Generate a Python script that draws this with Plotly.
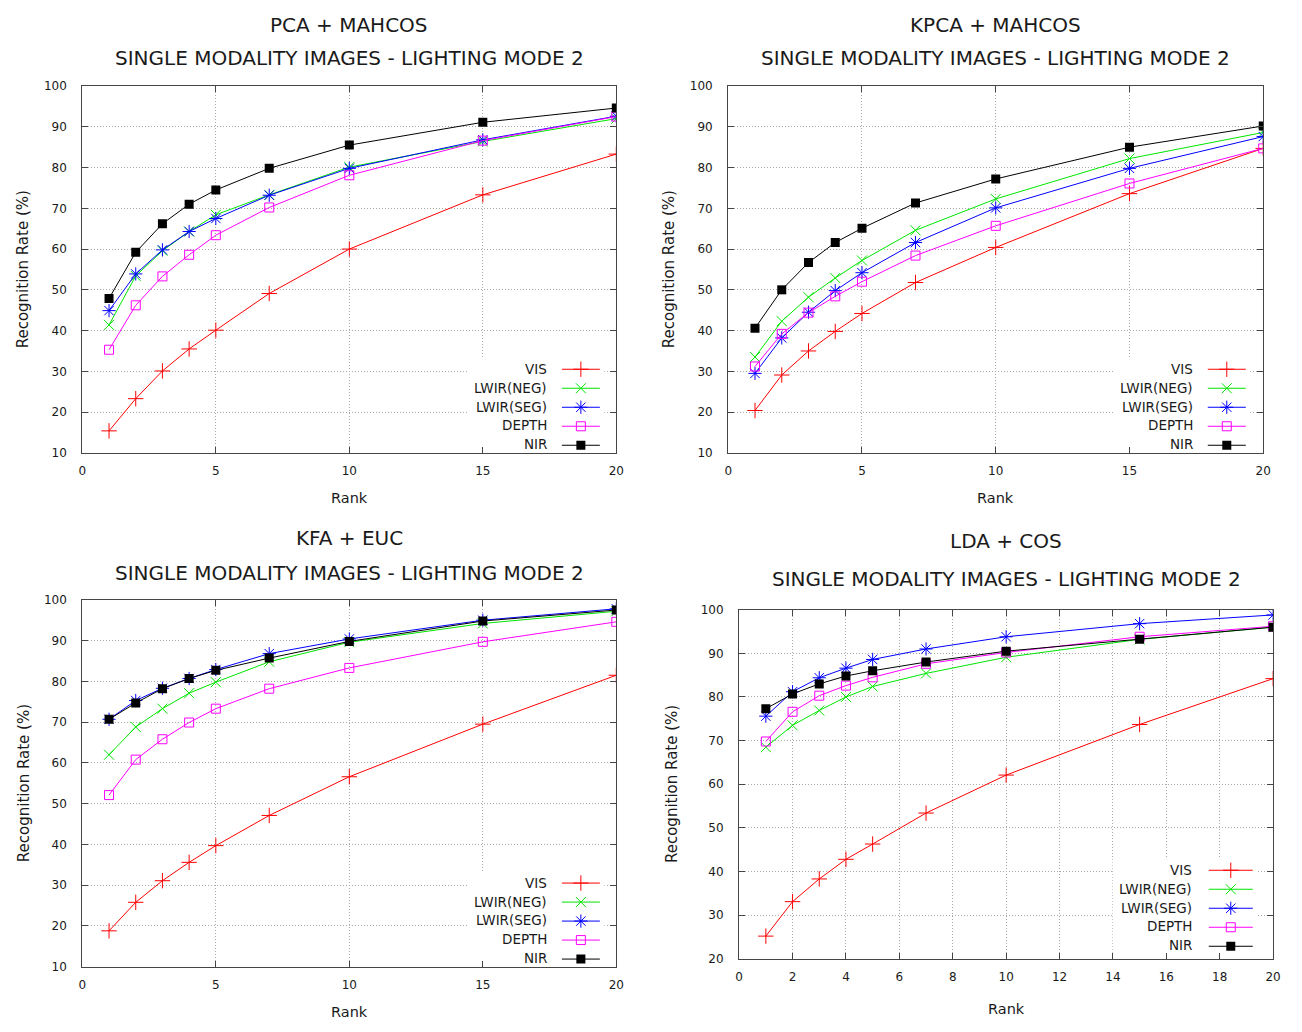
import plotly.graph_objects as go

# ---------------- data ----------------
ranks = [1, 2, 3, 4, 5, 7, 10, 15, 20]
series_names = ["VIS", "LWIR(NEG)", "LWIR(SEG)", "DEPTH", "NIR"]

panel_titles = ["PCA + MAHCOS", "KPCA + MAHCOS", "KFA + EUC", "LDA + COS"]
subtitle = "SINGLE MODALITY IMAGES - LIGHTING MODE 2"

pca_vis = [15.4, 23.3, 30.1, 35.5, 40.1, 49.1, 60.0, 73.3, 83.3]
pca_neg = [41.4, 53.4, 59.6, 64.3, 68.4, 73.3, 80.1, 86.4, 92.0]
pca_seg = [44.9, 53.9, 59.8, 64.3, 67.5, 73.2, 79.8, 86.8, 92.6]
pca_depth = [35.3, 46.2, 53.3, 58.6, 63.4, 70.2, 78.1, 86.6, 92.5]
pca_nir = [47.9, 59.2, 66.2, 71.0, 74.5, 79.8, 85.5, 91.1, 94.6]

kpca_vis = [20.4, 29.1, 35.0, 39.8, 44.2, 51.8, 60.4, 73.6, 84.7]
kpca_neg = [33.5, 42.3, 48.2, 52.9, 57.2, 64.6, 72.3, 82.2, 88.6]
kpca_seg = [29.5, 38.2, 44.5, 49.8, 54.2, 61.6, 70.1, 79.8, 87.6]
kpca_depth = [31.2, 39.2, 44.4, 48.4, 52.0, 58.4, 65.7, 76.1, 84.7]
kpca_nir = [40.6, 50.0, 56.7, 61.6, 65.1, 71.3, 77.2, 85.0, 90.2]

kfa_vis = [18.8, 25.8, 31.1, 35.6, 39.7, 47.1, 56.6, 69.5, 81.5]
kfa_neg = [62.0, 68.8, 73.3, 77.1, 79.8, 84.8, 89.6, 94.2, 97.2]
kfa_seg = [70.7, 75.3, 78.3, 80.7, 82.9, 86.8, 90.4, 95.0, 97.8]
kfa_depth = [52.1, 60.8, 65.8, 69.9, 73.3, 78.2, 83.3, 89.7, 94.6]
kfa_nir = [70.7, 74.7, 78.2, 80.7, 82.7, 85.7, 89.8, 94.8, 97.5]

lda_vis = [25.2, 33.1, 38.3, 42.8, 46.3, 53.4, 62.1, 73.7, 84.2]
lda_neg = [68.5, 73.5, 76.9, 80.0, 82.4, 85.4, 89.1, 93.2, 96.0]
lda_seg = [75.6, 81.2, 84.4, 86.6, 88.6, 91.0, 93.8, 96.8, 98.8]
lda_depth = [69.8, 76.6, 80.3, 82.6, 84.5, 87.6, 90.2, 93.8, 96.2]
lda_nir = [77.3, 80.7, 83.0, 84.8, 86.0, 88.0, 90.5, 93.2, 96.0]

panel_data = [
    [pca_vis, pca_neg, pca_seg, pca_depth, pca_nir],
    [kpca_vis, kpca_neg, kpca_seg, kpca_depth, kpca_nir],
    [kfa_vis, kfa_neg, kfa_seg, kfa_depth, kfa_nir],
    [lda_vis, lda_neg, lda_seg, lda_depth, lda_nir],
]

x_range = [0, 20]
x_dticks = [5, 5, 5, 2]
y_ranges = [[10, 100], [10, 100], [10, 100], [20, 100]]

# ---------------- styling ----------------
# The page body has an 8px default margin; size the figure so the page
# exactly fills the 1302x1032 window and position everything in page pixels.
OFF = 8
W, H = 1302 - 2 * OFF, 1032 - 2 * OFF
FONT = "DejaVu Sans"
TXT = "#1a1a1a"

colors = ["#ff0000", "#00e600", "#0000ff", "#ff00ff", "#000000"]
symbols = ["cross-thin-open", "x-thin-open", "asterisk-open", "square-open", "square"]
sizes = [11, 10, 11, 9, 9]

# plot boxes in page pixels: left, top, right, bottom
boxes = [(79, 80, 618, 452), (731, 80, 1271, 452),
         (79, 601, 618, 973), (742, 611, 1281, 965)]
title_y = [(18, 52), (18, 52), (538, 574), (541, 580)]
rank_y = [498, 498, 1019, 1016]
ylab_x = [20, 672, 20, 674]
# legend: text right edge, marker x, middle row y, sample width
legend_pos = [(550, 582, 405, 38), (1202, 1234, 405, 38),
              (550, 582, 926, 38), (1201, 1238, 913, 44)]


def fx(p):
    return (p - OFF) / W


def fy(p):
    return 1 - (p - OFF) / H


fig = go.Figure()
annotations = []
shapes = []

for i in range(4):
    ax = "" if i == 0 else str(i + 1)
    xa, ya = "x" + ax, "y" + ax
    leg = "legend" if i == 0 else "legend" + str(i + 1)
    for s in range(5):
        fig.add_trace(go.Scatter(
            x=ranks, y=panel_data[i][s], name="",
            mode="lines+markers", xaxis=xa, yaxis=ya, legend=leg,
            line=dict(color=colors[s], width=1),
            marker=dict(symbol=symbols[s], size=sizes[s], color=colors[s],
                        line=dict(color=colors[s], width=1 if s < 4 else 0)),
            showlegend=True,
        ))
    l, t, r, b = boxes[i]
    axis_common = dict(
        showline=True, linecolor="#454545", linewidth=1.3, mirror="ticks",
        ticks="inside", ticklen=6, tickcolor="#454545", tickwidth=1,
        showgrid=True, gridcolor="#a8a8a8", griddash="1px,2px", gridwidth=1,
        zeroline=False, tickfont=dict(family=FONT, size=12, color=TXT),
    )
    fig.update_layout(**{
        "xaxis" + ax: dict(domain=[fx(l), fx(r)], range=x_range, tick0=0,
                           dtick=x_dticks[i], anchor=ya, ticklabelstandoff=7,
                           **axis_common),
        "yaxis" + ax: dict(domain=[fy(b), fy(t)], range=y_ranges[i], tick0=0,
                           dtick=10, anchor=xa, ticklabelstandoff=12,
                           **axis_common),
    })
    cx = (l + r) / 2
    annotations.append(dict(text=panel_titles[i], x=fx(cx), y=fy(title_y[i][0]),
                            xref="paper", yref="paper", showarrow=False,
                            xanchor="center", yanchor="middle",
                            font=dict(family=FONT, size=20, color=TXT)))
    annotations.append(dict(text=subtitle, x=fx(cx), y=fy(title_y[i][1]),
                            xref="paper", yref="paper", showarrow=False,
                            xanchor="center", yanchor="middle",
                            font=dict(family=FONT, size=20, color=TXT)))
    annotations.append(dict(text="Rank", x=fx(cx), y=fy(rank_y[i]),
                            xref="paper", yref="paper", showarrow=False,
                            xanchor="center", yanchor="middle",
                            font=dict(family=FONT, size=14.5, color=TXT)))
    annotations.append(dict(text="Recognition Rate (%)", x=fx(ylab_x[i]),
                            y=fy((t + b) / 2), xref="paper", yref="paper",
                            showarrow=False, textangle=-90,
                            xanchor="center", yanchor="middle",
                            font=dict(family=FONT, size=15, color=TXT)))
    # legend (symbols from plotly, labels as right-aligned text to their left)
    tr, mx, my, sw = legend_pos[i]
    row_h = 19
    first = my - 2 * row_h
    fig.update_layout(**{leg: dict(
        x=fx(mx - sw / 2 - 5), y=fy(first - 14.5), xanchor="left", yanchor="top",
        bgcolor="rgba(0,0,0,0)", borderwidth=0, itemwidth=sw,
        font=dict(family=FONT, size=12), tracegroupgap=0,
        traceorder="normal",
    )})
    for s in range(5):
        annotations.append(dict(text=series_names[s], x=fx(tr), y=fy(first + s * row_h),
                                xref="paper", yref="paper", xanchor="right",
                                yanchor="middle", showarrow=False,
                                font=dict(family=FONT, size=13.5, color=TXT)))
    # white legend background covering the grid (pixels converted to axis units)
    y0r, y1r = y_ranges[i]

    def dx(p):
        return x_range[0] + (p - l) / (r - l) * (x_range[1] - x_range[0])

    def dy(p):
        return y0r + (b - p) / (b - t) * (y1r - y0r)

    shapes.append(dict(type="rect", xref=xa, yref=ya,
                       x0=dx(tr - 82), x1=dx(mx + sw / 2 + 5),
                       y0=max(dy(first + 4 * row_h + 10), y0r + 0.3),
                       y1=dy(first - 11),
                       fillcolor="white", line=dict(width=0), layer="between"))

fig.update_layout(
    width=W, height=H, margin=dict(l=0, r=0, t=0, b=0),
    paper_bgcolor="white", plot_bgcolor="white",
    annotations=annotations, shapes=shapes,
    font=dict(family=FONT, color=TXT),
)

fig.write_html("out.html", config={"displayModeBar": False})
